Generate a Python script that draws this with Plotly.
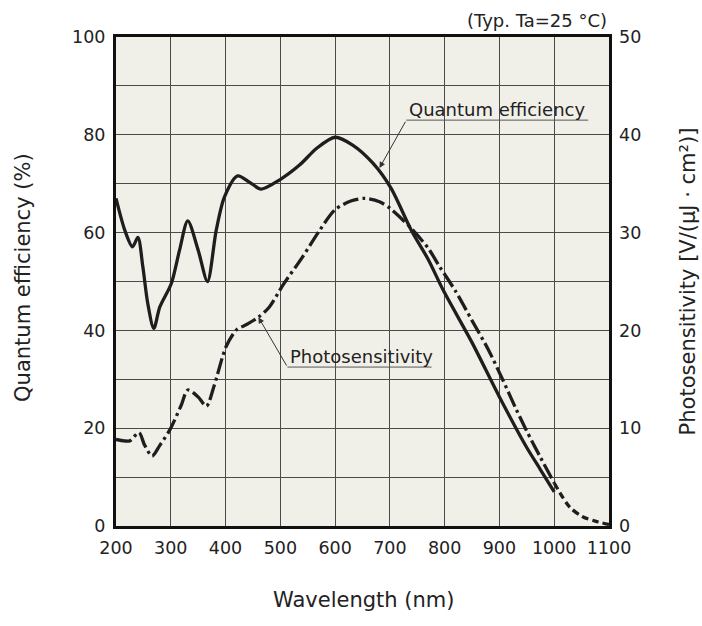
import plotly.graph_objects as go

# ---- data ----
qe_wavelength = [200, 216, 230, 240, 249, 258, 269, 280, 301, 316, 331, 350, 367, 383, 398,
                 422, 445, 465, 499, 535, 566, 600, 632, 669, 702, 739, 770, 797, 850, 900,
                 949, 975, 1000]
qe_percent = [67.0, 60.5, 57.1, 59.0, 53.0, 45.5, 40.4, 44.8, 49.6, 56.4, 62.4, 56.4, 50.0, 60.5, 67.3,
              71.6, 70.2, 68.9, 70.8, 73.8, 77.2, 79.5, 77.9, 74.2, 69.1, 60.5, 54.5, 48.3, 37.5, 26.4,
              16.2, 11.5, 7.0]

ps_wavelength = [200, 215, 225, 242, 252, 266, 280, 298, 319, 331, 350, 365, 380, 401, 420,
                 440, 460, 480, 505, 541, 572, 600, 630, 654, 681, 700, 718, 742, 770, 791,
                 820, 850, 880, 906, 930, 949, 975, 1000]
ps_value = [8.85, 8.7, 8.7, 9.55, 8.3, 7.15, 8.25, 9.8, 12.35, 13.9, 13.2, 12.25, 14.5, 18.35, 20.05,
            20.65, 21.35, 22.4, 24.65, 27.55, 30.25, 32.35, 33.25, 33.5, 33.15, 32.5, 31.6, 30.25, 28.4, 26.5,
            24.0, 21.0, 18.0, 14.95, 12.0, 9.8, 7.0, 4.4]

ps_tail_wavelength = [1000, 1028, 1052, 1075, 1100]
ps_tail_value = [4.4, 1.95, 0.95, 0.5, 0.15]

x_ticks = [200, 300, 400, 500, 600, 700, 800, 900, 1000, 1100]
y_left_ticks = [0, 20, 40, 60, 80, 100]
y_right_ticks = [0, 10, 20, 30, 40, 50]

FONT = "DejaVu Sans"
INK = "#1e1e1e"
GRID = "#4a4a4a"

fig = go.Figure()
fig.add_trace(go.Scatter(x=qe_wavelength, y=qe_percent, mode="lines",
                         line=dict(color=INK, width=3.3, shape="spline", smoothing=0.8),
                         name="Quantum efficiency", showlegend=False))
fig.add_trace(go.Scatter(x=ps_wavelength, y=ps_value, mode="lines", yaxis="y2",
                         line=dict(color=INK, width=3.3, shape="spline", smoothing=0.8,
                                   dash="16px,4px,3px,4px"),
                         name="Photosensitivity", showlegend=False))
fig.add_trace(go.Scatter(x=ps_tail_wavelength, y=ps_tail_value, mode="lines", yaxis="y2",
                         line=dict(color=INK, width=3.3, shape="spline", smoothing=0.8,
                                   dash="7px,4px"),
                         showlegend=False))

fig.update_layout(
    width=702, height=626,
    margin=dict(l=116, r=93, t=37, b=100, autoexpand=False),
    paper_bgcolor="white",
    plot_bgcolor="#f1f0e8",
    font=dict(family=FONT, size=17.5, color="#222"),
    xaxis=dict(range=[200, 1100], tickvals=x_ticks, showgrid=True, gridcolor=GRID, gridwidth=1.3,
               showline=True, linecolor="#111", linewidth=3, mirror=True, ticks="",
               ticklabelstandoff=4, zeroline=False, automargin=False),
    yaxis=dict(range=[0, 100], tickvals=y_left_ticks, showgrid=True, gridcolor=GRID, gridwidth=1.3,
               minor=dict(dtick=10, showgrid=True, gridcolor=GRID, gridwidth=1.3),
               showline=True, linecolor="#111", linewidth=3, mirror=True, ticks="",
               ticklabelstandoff=4, zeroline=False, automargin=False),
    yaxis2=dict(range=[0, 50], tickvals=y_right_ticks, overlaying="y", side="right",
                showgrid=False, zeroline=False, ticks="", ticklabelstandoff=9, automargin=False),
)

# axis titles
fig.add_annotation(text="Wavelength (nm)", xref="paper", yref="paper", x=0.502, y=-0.151,
                   xanchor="center", yanchor="middle", showarrow=False, font=dict(size=21))
fig.add_annotation(text="Quantum efficiency (%)", xref="paper", yref="paper", x=-0.19, y=0.508,
                   xanchor="center", yanchor="middle", textangle=-90, showarrow=False,
                   font=dict(size=21))
fig.add_annotation(text="Photosensitivity [V/(µJ · cm²)]", xref="paper", yref="paper", x=1.16, y=0.5,
                   xanchor="center", yanchor="middle", textangle=-90, showarrow=False,
                   font=dict(size=21))

# "(Typ. Ta=25 °C)"
fig.add_annotation(text="(Typ. Ta=25 °C)", xref="paper", yref="paper", x=1.0, y=1.0,
                   xanchor="right", yanchor="bottom", showarrow=False, font=dict(size=18), yshift=4)

# Quantum efficiency label with underline and leader arrow
fig.add_annotation(text="Quantum efficiency", x=731, y=82.6, xanchor="left", yanchor="bottom",
                   showarrow=False, font=dict(size=18))
fig.add_shape(type="line", x0=730, x1=1062, y0=83.0, y1=83.0, line=dict(color="#555", width=1))
fig.add_annotation(x=681, y=73.2, ax=730, ay=83.0, axref="x", ayref="y", text="",
                   showarrow=True, arrowhead=2, arrowsize=1.2, arrowwidth=1, arrowcolor="#333")

# Photosensitivity label with underline and leader arrow
fig.add_annotation(text="Photosensitivity", x=514, y=32.1, xanchor="left", yanchor="bottom",
                   showarrow=False, font=dict(size=18))
fig.add_shape(type="line", x0=513, x1=776, y0=32.5, y1=32.5, line=dict(color="#555", width=1))
fig.add_annotation(x=460, y=42.7, ax=513, ay=32.5, axref="x", ayref="y", text="",
                   showarrow=True, arrowhead=2, arrowsize=1.2, arrowwidth=1, arrowcolor="#333")

fig.write_html("out.html", config={"displayModeBar": False},
               post_script="document.body.style.margin='0';")
